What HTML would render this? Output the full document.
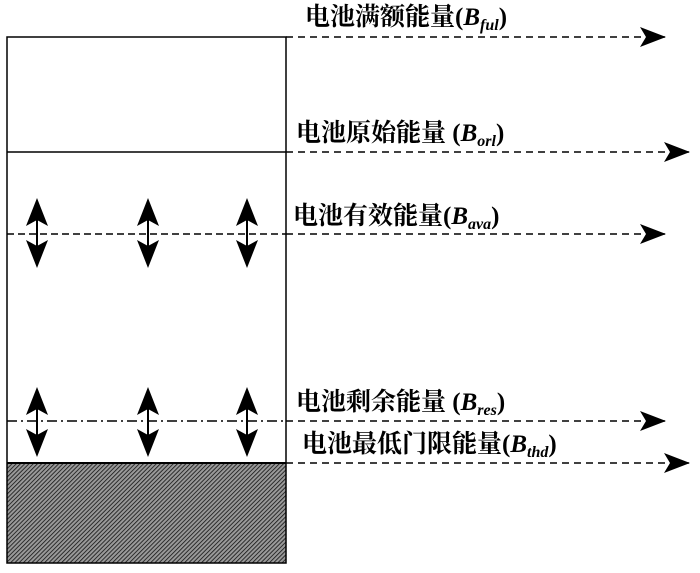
<!DOCTYPE html>
<html><head><meta charset="utf-8"><style>body{margin:0;background:#fff}</style></head><body>
<svg width="700" height="568" xmlns="http://www.w3.org/2000/svg" font-family="Liberation Serif, Noto Serif CJK SC, serif" font-size="25" font-weight="bold" fill="#000">
<defs>
<pattern id="h" width="3" height="3" patternUnits="userSpaceOnUse" patternTransform="rotate(45)">
<rect width="3" height="3" fill="#999"/><line x1="0" y1="0" x2="0" y2="3" stroke="#111" stroke-width="1.6"/>
</pattern>
<marker id="a" markerWidth="26" markerHeight="20" refX="26" refY="10" orient="auto" markerUnits="userSpaceOnUse"><path d="M0,0 L26,10 L0,20 L6,10 Z" fill="#000"/></marker>
<g id="ar">
<line x1="0" y1="215" x2="0" y2="252" stroke="#000" stroke-width="2"/>
<path d="M0,198 L-11,226 L0,220 L11,226 Z"/>
<path d="M0,268 L-11,240 L0,246 L11,240 Z"/>
</g>
</defs>
<rect x="7" y="463" width="279" height="100" fill="url(#h)"/>
<rect x="7" y="37" width="279" height="526" fill="none" stroke="#000" stroke-width="1.5"/>
<line x1="7" y1="152" x2="286" y2="152" stroke="#000" stroke-width="1.5"/>
<line x1="7" y1="463" x2="286" y2="463" stroke="#000" stroke-width="2"/>
<line x1="7" y1="234" x2="286" y2="234" stroke="#000" stroke-width="1.5" stroke-dasharray="7,4"/>
<line x1="7" y1="421" x2="286" y2="421" stroke="#000" stroke-width="1.5" stroke-dasharray="10,4,2,4"/>
<g stroke="#000" stroke-width="1.5" stroke-dasharray="7,5" marker-end="url(#a)">
<line x1="286" y1="37" x2="666" y2="37"/>
<line x1="286" y1="152" x2="690" y2="152"/>
<line x1="286" y1="234" x2="666" y2="234"/>
<line x1="286" y1="421" x2="666" y2="421"/>
<line x1="286" y1="463" x2="690" y2="463"/>
</g>
<use href="#ar" x="37"/><use href="#ar" x="148"/><use href="#ar" x="247"/>
<use href="#ar" x="37" y="189"/><use href="#ar" x="148" y="189"/><use href="#ar" x="247" y="189"/>
<text x="305" y="25">电池满额能量(<tspan font-style="italic">B</tspan><tspan font-style="italic" font-size="16" dy="5">ful</tspan><tspan dy="-5">)</tspan></text>
<text x="296" y="141">电池原始能量 (<tspan font-style="italic">B</tspan><tspan font-style="italic" font-size="16" dy="5">orl</tspan><tspan dy="-5">)</tspan></text>
<text x="293" y="224">电池有效能量(<tspan font-style="italic">B</tspan><tspan font-style="italic" font-size="16" dy="5">ava</tspan><tspan dy="-5">)</tspan></text>
<text x="296" y="410">电池剩余能量 (<tspan font-style="italic">B</tspan><tspan font-style="italic" font-size="16" dy="5">res</tspan><tspan dy="-5">)</tspan></text>
<text x="302" y="452">电池最低门限能量(<tspan font-style="italic">B</tspan><tspan font-style="italic" font-size="16" dy="5">thd</tspan><tspan dy="-5">)</tspan></text>
</svg>
</body></html>
